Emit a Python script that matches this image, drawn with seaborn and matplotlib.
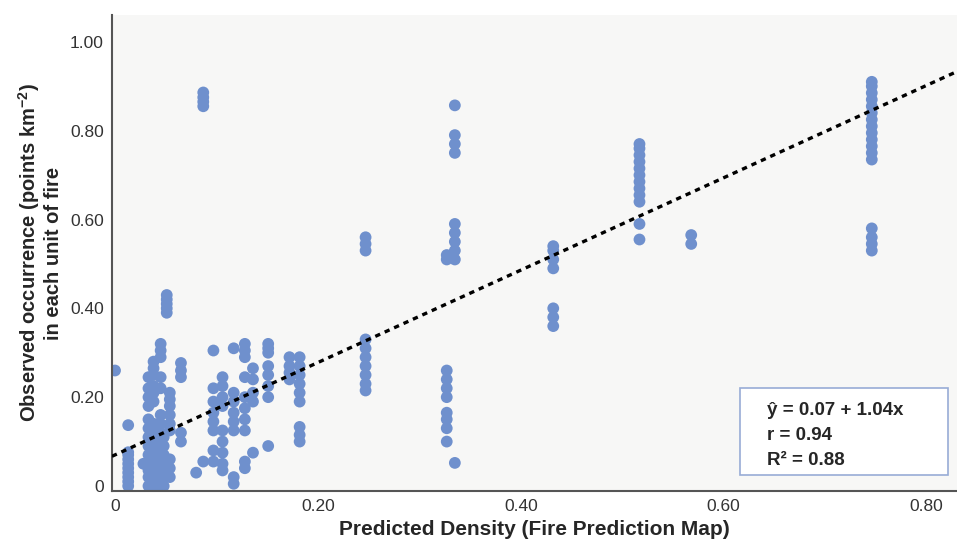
import pandas as pd
import matplotlib.pyplot as plt
import seaborn as sns
from matplotlib.patches import Rectangle

# Predicted density of each column of points, and the observed values stacked in it
pred_density = [0.000, 0.013, 0.028, 0.033, 0.038, 0.045, 0.048, 0.051, 0.054,
                0.065, 0.080, 0.087, 0.097, 0.106, 0.117, 0.128, 0.136, 0.151,
                0.172, 0.182, 0.247, 0.327, 0.335, 0.432, 0.517, 0.568, 0.746]
observed = [
    [0.26],
    [0.0, 0.01, 0.02, 0.03, 0.04, 0.05, 0.06, 0.07, 0.076, 0.137],
    [0.05],
    [0.0, 0.02, 0.035, 0.05, 0.07, 0.09, 0.11, 0.13, 0.15, 0.18, 0.20, 0.22, 0.245],
    [0.0, 0.01, 0.03, 0.04, 0.06, 0.08, 0.10, 0.12, 0.14, 0.19, 0.21, 0.225, 0.25, 0.265, 0.28],
    [0.0, 0.015, 0.03, 0.045, 0.06, 0.08, 0.10, 0.12, 0.14, 0.16, 0.22, 0.245, 0.29, 0.305, 0.32],
    [0.0, 0.03, 0.05, 0.07, 0.09, 0.11],
    [0.39, 0.40, 0.41, 0.42, 0.43],
    [0.02, 0.04, 0.06, 0.125, 0.14, 0.16, 0.18, 0.195, 0.21],
    [0.10, 0.12, 0.245, 0.26, 0.277],
    [0.03],
    [0.055, 0.855, 0.865, 0.875, 0.886],
    [0.055, 0.08, 0.125, 0.145, 0.165, 0.19, 0.22, 0.305],
    [0.035, 0.05, 0.075, 0.10, 0.125, 0.18, 0.20, 0.225, 0.245],
    [0.005, 0.02, 0.125, 0.145, 0.165, 0.19, 0.21, 0.31],
    [0.04, 0.055, 0.125, 0.15, 0.175, 0.20, 0.245, 0.29, 0.305, 0.32],
    [0.075, 0.19, 0.21, 0.24, 0.265],
    [0.09, 0.20, 0.225, 0.25, 0.27, 0.30, 0.31, 0.32],
    [0.24, 0.255, 0.27, 0.29],
    [0.10, 0.115, 0.133, 0.19, 0.21, 0.23, 0.25, 0.27, 0.29],
    [0.215, 0.23, 0.25, 0.27, 0.29, 0.31, 0.33, 0.53, 0.545, 0.56],
    [0.10, 0.13, 0.15, 0.165, 0.20, 0.22, 0.24, 0.26, 0.51, 0.52],
    [0.052, 0.51, 0.53, 0.55, 0.57, 0.59, 0.75, 0.77, 0.79, 0.857],
    [0.36, 0.38, 0.40, 0.49, 0.51, 0.53, 0.54],
    [0.555, 0.59, 0.64, 0.655, 0.67, 0.685, 0.70, 0.715, 0.73, 0.745, 0.76, 0.77],
    [0.545, 0.565],
    [0.53, 0.545, 0.56, 0.58, 0.735, 0.75, 0.765, 0.78, 0.795, 0.81, 0.825,
     0.84, 0.855, 0.87, 0.885, 0.90, 0.91],
]

# Fitted line as reported
intercept = 0.07
slope = 1.04
stats_lines = ['ŷ = 0.07 + 1.04x', 'r = 0.94', 'R² = 0.88']

x_ticks = [0, 0.2, 0.4, 0.6, 0.8]
x_labels = ['0', '0.20', '0.40', '0.60', '0.80']
y_ticks = [0, 0.2, 0.4, 0.6, 0.8, 1.0]
y_labels = ['0', '0.20', '0.40', '0.60', '0.80', '1.00']

rows = [(x, y) for x, ys in zip(pred_density, observed) for y in ys]
df = pd.DataFrame(rows, columns=['pred', 'obs'])

sns.set_style('white')
plt.rcParams['font.family'] = ['Liberation Sans', 'DejaVu Sans']

fig = plt.figure(figsize=(9.57, 5.43), dpi=100)
ax = fig.add_axes([0.117, 0.096, 0.883, 0.876])
ax.set_facecolor('#f7f7f6')

sns.scatterplot(data=df, x='pred', y='obs', color='#6f90cd', s=72,
                edgecolor='none', linewidth=0, ax=ax, zorder=2)

ax.axline((0, intercept), slope=slope, color='black', linewidth=2.4,
          dashes=(1.6, 1.5), zorder=3)

ax.set_xlim(-0.003, 0.83)
ax.set_ylim(-0.011, 1.06)
ax.set_xticks(x_ticks)
ax.set_xticklabels(x_labels)
ax.set_yticks(y_ticks)
ax.set_yticklabels(y_labels)
ax.tick_params(length=0, labelsize=12.5, colors='#333333', pad=6)

for side in ['top', 'right']:
    ax.spines[side].set_visible(False)
for side in ['left', 'bottom']:
    ax.spines[side].set_color('#555555')
    ax.spines[side].set_linewidth(1.5)

ax.set_xlabel('Predicted Density (Fire Prediction Map)', fontsize=15,
              fontweight='bold', labelpad=4)
ax.set_ylabel('Observed occurrence (points km$^{\\mathregular{-2}}$)\nin each unit of fire',
              fontsize=14.5, fontweight='bold', labelpad=5, linespacing=1.1)

# stats box
ax.add_patch(Rectangle((0.743, 0.034), 0.246, 0.182, transform=ax.transAxes,
                       facecolor='white', edgecolor='#98acd6', linewidth=1.2, zorder=4))
for i, line in enumerate(stats_lines):
    ax.text(0.775, 0.170 - i * 0.053, line, transform=ax.transAxes, fontsize=13.5,
            fontweight='bold', va='center', ha='left', zorder=5)

plt.savefig('out.png', dpi=100)
